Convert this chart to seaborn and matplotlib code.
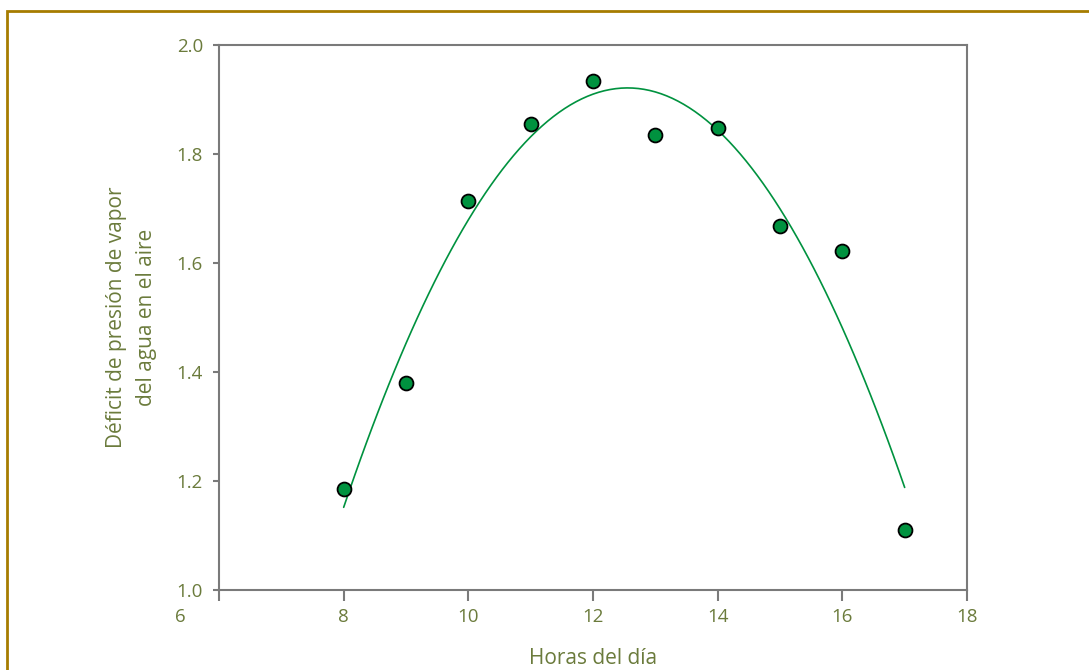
import numpy as np
import pandas as pd
import seaborn as sns
import matplotlib.pyplot as plt
from matplotlib.patches import Rectangle
from matplotlib.transforms import ScaledTranslation

# Daten: Stunde des Tages und Dampfdruckdefizit
horas = [8, 9, 10, 11, 12, 13, 14, 15, 16, 17]
deficit = [1.185, 1.380, 1.714, 1.855, 1.934, 1.835, 1.848, 1.668, 1.622, 1.110]
xticks = [6, 8, 10, 12, 14, 16, 18]
yticks = [1.0, 1.2, 1.4, 1.6, 1.8, 2.0]

df = pd.DataFrame({'hora': horas, 'deficit': deficit})

texto = '#6B7B3C'
verde = '#00923F'
gris = '#7A7A7A'

sns.set_style('white')
plt.rcParams['font.family'] = ['Open Sans', 'DejaVu Sans']

fig = plt.figure(figsize=(10.89, 6.70), dpi=100)
ax = fig.add_axes([219 / 1089, 1 - 590 / 670, (967 - 219) / 1089, (590 - 45) / 670])

# Kurve (quadratische Anpassung) + Punkte
sns.regplot(x='hora', y='deficit', data=df, order=2, ci=None,
            scatter=False, line_kws={'color': verde, 'lw': 1.2}, ax=ax)
sns.scatterplot(x='hora', y='deficit', data=df, color=verde, s=100,
                edgecolor='black', linewidth=1.3, zorder=3, ax=ax)

ax.set_xlim(6, 18)
ax.set_ylim(1.0, 2.0)
ax.set_xticks(xticks)
ax.set_yticks(yticks)
ax.set_xticklabels([str(t) for t in xticks])
ax.set_yticklabels([f'{t:.1f}' for t in yticks])

for s in ax.spines.values():
    s.set_color(gris)
    s.set_linewidth(1.5)
ax.tick_params(axis='x', direction='out', length=8, width=1.5, color=gris,
               labelsize=13.5, labelcolor=texto, pad=5, bottom=True)
ax.tick_params(axis='y', direction='out', length=4.5, width=1.5, color=gris,
               labelsize=13.5, labelcolor=texto, pad=7, left=True)

# "6" etwas nach links schieben
lab6 = ax.get_xticklabels()[0]
lab6.set_transform(lab6.get_transform() + ScaledTranslation(-0.39, 0, fig.dpi_scale_trans))

ax.set_xlabel('Horas del día', fontsize=15, color=texto, labelpad=16)
ax.set_ylabel('Déficit de presión de vapor\ndel agua en el aire', fontsize=15,
              color=texto, labelpad=14, linespacing=1.6)

# goldener Rahmen
fig.add_artist(Rectangle((7 / 1089, -0.2), 1.2, 1.2 - 11 / 670, transform=fig.transFigure,
                         fill=False, edgecolor='#A67C00', linewidth=2))

fig.savefig('out.png', dpi=100)
